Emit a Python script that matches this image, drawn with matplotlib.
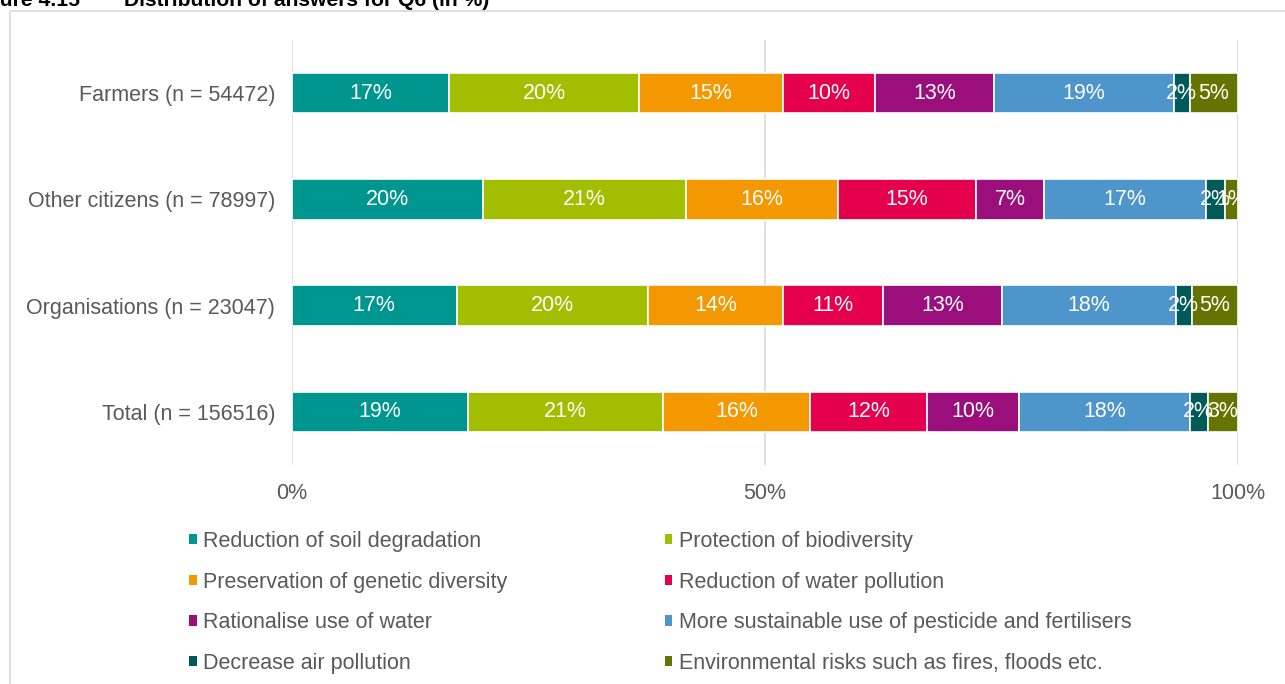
import matplotlib
matplotlib.use("Agg")
import matplotlib.pyplot as plt
from matplotlib.patches import Rectangle, Patch
import numpy as np

plt.rcParams['font.family'] = ['Liberation Sans', 'DejaVu Sans']

categories = ["Farmers (n = 54472)", "Other citizens (n = 78997)",
              "Organisations (n = 23047)", "Total (n = 156516)"]
series_names = ["Reduction of soil degradation", "Protection of biodiversity",
                "Preservation of genetic diversity", "Reduction of water pollution",
                "Rationalise use of water", "More sustainable use of pesticide and fertilisers",
                "Decrease air pollution", "Environmental risks such as fires, floods etc."]
soil = [16.6, 20.2, 17.4, 18.6]
biodiv = [20.1, 21.4, 20.2, 20.6]
genetic = [15.2, 16.1, 14.3, 15.6]
water_poll = [9.7, 14.6, 10.6, 12.3]
water_use = [12.6, 7.2, 12.6, 9.8]
pesticide = [19.0, 17.1, 18.3, 18.0]
air = [1.7, 2.0, 1.7, 1.9]
risks = [5.1, 1.4, 4.9, 3.2]
series = [soil, biodiv, genetic, water_poll, water_use, pesticide, air, risks]
colors = ["#009690", "#A2BE00", "#F39800", "#E5004E", "#9A0F7B", "#4E95CC", "#005A58", "#657400"]
xticks = [0, 50, 100]
xticklabels = ["0%", "50%", "100%"]

W, H = 1285, 684
FS = 15.5
GRAY = "#595959"
fig = plt.figure(figsize=(W / 100, H / 100), dpi=100)

# outer border box
fig.patches.append(Rectangle((10 / W, -0.05), 1.1, 1 - 11 / H + 0.05, transform=fig.transFigure,
                             fill=False, edgecolor="#D9D9D9", linewidth=1.2))

fig.text(80 / W, 1 - 6 / H, "Figure 4.15", fontsize=15.2, fontweight="bold",
         color="black", va="baseline", ha="right")
fig.text(124 / W, 1 - 6 / H, "Distribution of answers for Q6 (in %)", fontsize=15.2,
         fontweight="bold", color="black", va="baseline", ha="left")

ax = fig.add_axes([292 / W, 1 - 465 / H, (1238 - 292) / W, (465 - 40) / H])
y = np.arange(len(categories))
left = np.zeros(len(categories))
for vals, name, c in zip(series, series_names, colors):
    vals = np.array(vals)
    ax.barh(y, vals, left=left, height=0.38, color=c, edgecolor="white",
            linewidth=1.2, label=name, zorder=3)
    for yi, l, v in zip(y, left, vals):
        ax.text(l + v / 2, yi, f"{v:.0f}%", ha="center", va="center", color="white",
                fontsize=FS, zorder=4)
    left += vals

ax.set_ylim(3.5, -0.5)
ax.set_xlim(0, 100)
ax.set_yticks(y)
ax.set_yticklabels(categories, fontsize=FS, color=GRAY)
ax.set_xticks(xticks)
ax.set_xticklabels(xticklabels, fontsize=FS, color=GRAY)
ax.tick_params(axis="both", length=0)
ax.tick_params(axis="x", pad=13)
ax.tick_params(axis="y", pad=12)
for s in ax.spines.values():
    s.set_visible(False)
ax.grid(axis="x", color="#D9D9D9", linewidth=1.2, zorder=0)
ax.set_axisbelow(True)

handles = [Patch(facecolor=c, edgecolor="none") for c in colors]
order = [0, 2, 4, 6, 1, 3, 5, 7]
leg = fig.legend([handles[i] for i in order], [series_names[i] for i in order],
                 ncol=2, loc="upper left", bbox_to_anchor=(189 / W, 1 - 531 / H),
                 frameon=False, fontsize=FS, handlelength=0.36, handleheight=0.36,
                 handletextpad=0.3, columnspacing=7.3, labelspacing=0.91,
                 borderaxespad=0, borderpad=0)
for t in leg.get_texts():
    t.set_color(GRAY)

fig.savefig("out.png", dpi=100)
